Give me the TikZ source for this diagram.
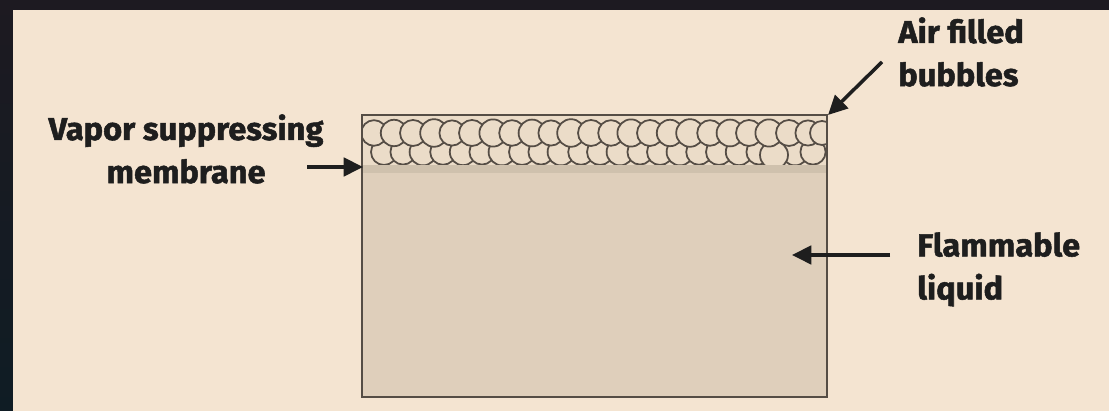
\documentclass[tikz,border=0pt]{standalone}
\usepackage{fontspec}
\usetikzlibrary{arrows.meta}
\newfontfamily\labelfont[FakeStretch=1.03, BoldFeatures={FakeBold=1.6}]{Fira Sans}

\definecolor{frameDark}{HTML}{1D1A21}
\definecolor{frameDarkLow}{HTML}{0F1C24}
\definecolor{panelBeige}{HTML}{F4E4D1}
\definecolor{liquidTan}{HTML}{DFCFBB}
\definecolor{bubbleTan}{HTML}{EBDCC8}
\definecolor{bandTan}{HTML}{CFC1AD}
\definecolor{edgeGray}{HTML}{554D45}
\definecolor{inkBlack}{HTML}{1E1E1E}

\tikzset{
  caption/.style={font=\labelfont\bfseries\fontsize{18}{24.5}\selectfont, text=inkBlack, inner sep=0pt},
  pointer/.style={draw=inkBlack, line width=2pt, -{Triangle[length=11pt,width=10.5pt]}},
  bubble/.style={draw=edgeGray, fill=bubbleTan, line width=1pt}
}

\begin{document}
\begin{tikzpicture}[x=0.02cm,y=0.02cm]
% frame and panel
\useasboundingbox (0,0) rectangle (1109,411);
\shade[top color=frameDark, bottom color=frameDarkLow] (0,0) rectangle (1109,411);
\fill[panelBeige] (13,0) rectangle (1109,401);

% container
\fill[liquidTan] (362,14) rectangle (827,296);
\fill[bubbleTan] (362,246) rectangle (827,296);
\fill[bandTan] (362,238) rectangle (827,246);
\begin{scope}
\clip (362,246) rectangle (827,296);
% lower row of bubbles
\foreach \x/\r in {384/13,403/12.6,423/13.4,443/12.8,463/13.2,482/12.6,502/13.4,522/13,
  541/12.6,561/13.4,581/12.8,600/13,620/13.4,640/12.6,660/13,680/13.4,699/12.8,719/13,
  739/13.2,759/12.6,795/13.4,813/12.6}
  \draw[bubble] (\x,259) circle (\r);
\draw[bubble] (774,256) circle (14);
% upper row of bubbles
\foreach \x/\r in {374/12.8,394/13.2,413/13,434/13.8,452/12.6,472/13,493/13.6,512/12.8,
  532/13.4,551/12.6,571/13.8,591/13,611/12.8,631/13.6,650/13,670/13.2,690/13.8,710/12.8,
  730/13.4,749/13,769/13.6,789/13,808/12.6,822/12}
  \draw[bubble] (\x,278) circle (\r);
\end{scope}
\draw[edgeGray, line width=1.5pt] (362,14) rectangle (827,296);

% labels
\node[caption, align=center, anchor=north] (vapor) at (186,297) {Vapor suppressing\\membrane};
\node[caption, align=left, anchor=north west] (air) at (898,394) {Air filled\\bubbles};
\node[caption, align=left, anchor=north west] (flammable) at (917,179) {Flammable\\liquid};

% arrows
\coordinate (vapor tail) at (307,244);
\coordinate (vapor tip) at (363,244);
\coordinate (air tail) at (882,349);
\coordinate (air tip) at (828,296);
\coordinate (liquid tail) at (890,156);
\coordinate (liquid tip) at (792,156);
\draw[pointer] (vapor tail) -- (vapor tip);
\draw[pointer] (air tail) -- (air tip);
\draw[pointer] (liquid tail) -- (liquid tip);
\end{tikzpicture}
\end{document}
